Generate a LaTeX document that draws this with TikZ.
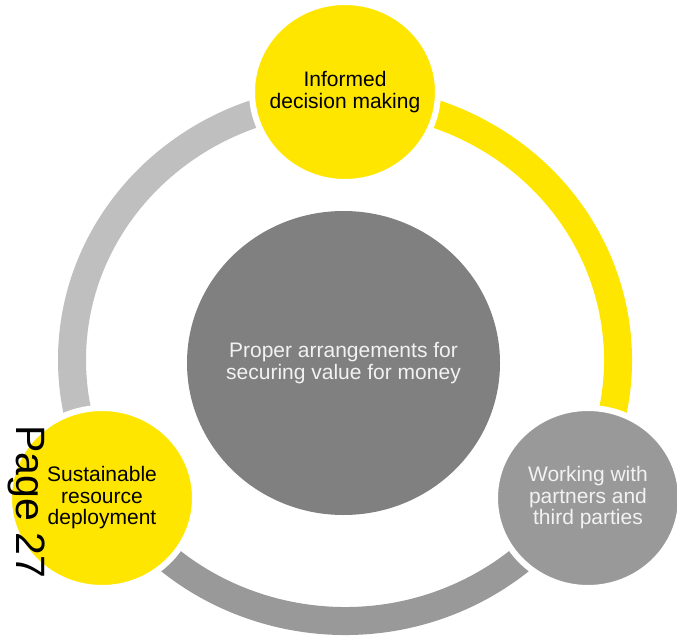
\documentclass[tikz,border=0pt]{standalone}
\usepackage{fontspec}
\setmainfont{Liberation Sans}
\usetikzlibrary{shapes.geometric}
\definecolor{eyyellow}{HTML}{FFE600}
\definecolor{ringgrey}{HTML}{BFBFBF}
\definecolor{midgrey}{HTML}{999999}
\definecolor{coregrey}{HTML}{808080}
\definecolor{paletext}{HTML}{F2F2F2}
\begin{document}
\begin{tikzpicture}[
  x=1pt, y=1pt,
  ring/.style={line width=28pt},
  bubble/.style={ellipse, draw=white, line width=6pt, inner sep=0pt, minimum width=186pt, minimum height=180pt},
  core/.style={ellipse, fill=coregrey, inner sep=0pt, minimum width=313pt, minimum height=304pt},
  darktxt/.style={align=center, text=black, font=\fontsize{21}{21.5}\selectfont},
  paletxt/.style={align=center, text=paletext, font=\fontsize{21}{21.5}\selectfont}
  ]
  \useasboundingbox (0,0) rectangle (677,641);
  \coordinate (hub) at (345,281);
  \draw[ring, ringgrey] (hub) ++(90:273 and 261) arc[start angle=90, end angle=210.7, x radius=273, y radius=261];
  \draw[ring, eyyellow] (hub) ++(-30.7:273 and 261) arc[start angle=-30.7, end angle=90, x radius=273, y radius=261];
  \draw[ring, midgrey] (hub) ++(210.7:273 and 261) arc[start angle=210.7, end angle=329.3, x radius=273, y radius=261];
  \node[core] (value) at (343.5,278) {};
  \node[paletxt] (value-text) at (value) {Proper arrangements for\\securing value for money};
  \node[bubble, fill=eyyellow] (decide) at (345,549) {};
  \node[darktxt] (decide-text) at (decide) {Informed\\decision making};
  \node[bubble, fill=eyyellow] (sustain) at (102,143) {};
  \node[darktxt] (sustain-text) at (sustain) {Sustainable\\resource\\deployment};
  \node[bubble, fill=midgrey] (partner) at (588,143) {};
  \node[paletxt] (partner-text) at (partner) {Working with\\partners and\\third parties};
  \node[font=\fontsize{41}{41}\selectfont, rotate=-90, anchor=base, inner sep=0pt] (page) at (16,139) {Page 27};
\end{tikzpicture}
\end{document}
